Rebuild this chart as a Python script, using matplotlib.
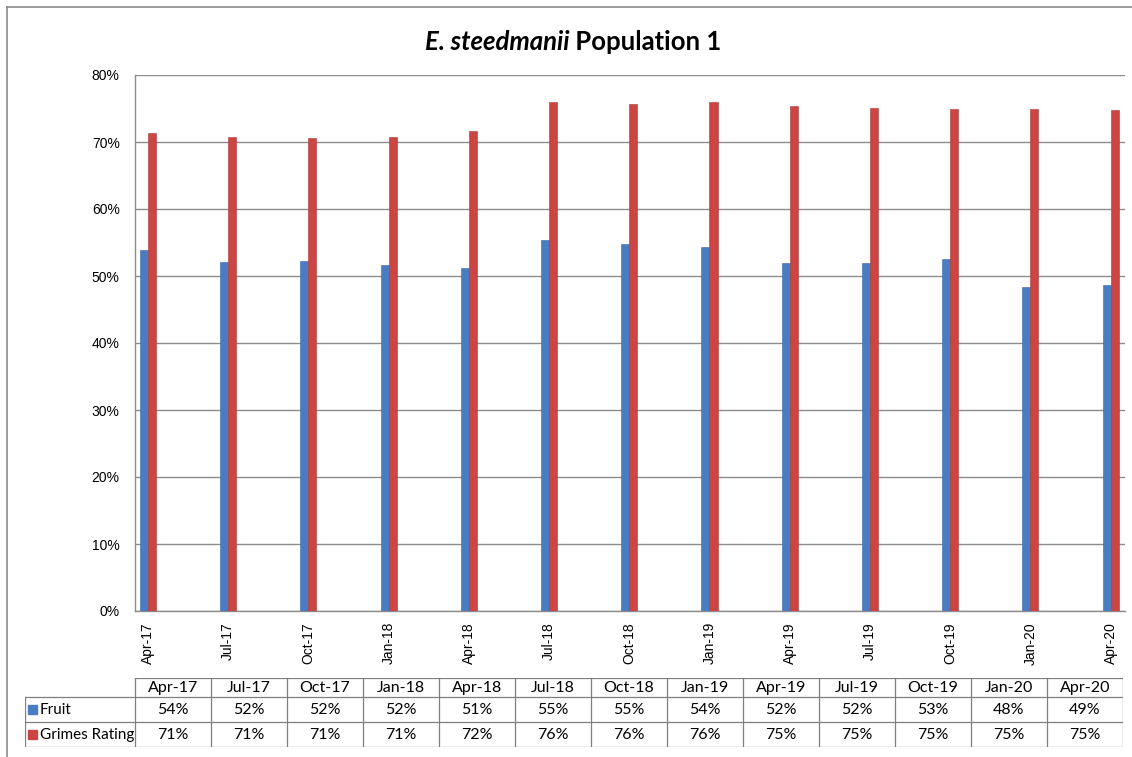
#!/usr/bin/env python3
# steedmanii_population.py

import matplotlib.pyplot as plt
from matplotlib.patches import Rectangle
from matplotlib.ticker import MultipleLocator, PercentFormatter
import numpy as np

dates = ["Apr-17", "Jul-17", "Oct-17", "Jan-18", "Apr-18", "Jul-18", "Oct-18",
         "Jan-19", "Apr-19", "Jul-19", "Oct-19", "Jan-20", "Apr-20"]
fruit = [53.9, 52.1, 52.2, 51.6, 51.2, 55.4, 54.8,
         54.4, 51.9, 51.9, 52.6, 48.4, 48.7]
grimes = [71.3, 70.7, 70.6, 70.7, 71.6, 76.0, 75.7,
          76.0, 75.4, 75.1, 74.9, 74.9, 74.8]
series = ["Fruit", "Grimes Rating"]

BLUE = '#4A7CC2'
RED = '#CC4542'
GRID = '#8C8C8C'
W, H = 1132, 757
TABLE_FONT = ['Lato', 'DejaVu Sans']
AXIS_FONT = ['Liberation Sans', 'DejaVu Sans']


def plot_bars(ax):
    x = np.arange(len(dates))
    bw = 0.1
    ax.bar(x - bw / 2, fruit, bw, color=BLUE, edgecolor='#3A68A8',
           linewidth=0.4, zorder=3)
    ax.bar(x + bw / 2, grimes, bw, color=RED, edgecolor='#A83A38',
           linewidth=0.4, zorder=3)

    ax.set_xlim(-0.162, 12.18)
    ax.set_ylim(0, 80)
    ax.yaxis.set_major_locator(MultipleLocator(10))
    ax.yaxis.set_major_formatter(PercentFormatter(decimals=0))
    ax.set_xticks(x)
    ax.set_xticklabels(dates, rotation=90, family=AXIS_FONT, fontsize=10)
    for lab in ax.get_yticklabels():
        lab.set_family(AXIS_FONT)
        lab.set_fontsize(10)
    ax.tick_params(axis='y', length=0, pad=11)
    ax.tick_params(axis='x', length=0, pad=8)
    ax.grid(axis='y', color=GRID, linewidth=1.0, zorder=0)
    ax.set_axisbelow(True)
    for side in ('top', 'right'):
        ax.spines[side].set_visible(False)
    for side in ('left', 'bottom'):
        ax.spines[side].set_color(GRID)
        ax.spines[side].set_linewidth(1.0)


def plot_table(tab):
    # coordinates in pixels inside the table box
    label_w, col_w = 110, 76
    rows_y = [0, 19, 44, 69]
    right = label_w + col_w * len(dates)
    tab.set_xlim(0, right)
    tab.set_ylim(rows_y[-1], 0)
    tab.axis('off')

    lc = dict(color='#7F7F7F', linewidth=0.9)
    tab.plot([label_w, right], [rows_y[0]] * 2, **lc)
    for y in rows_y[1:]:
        tab.plot([0, right], [y, y], **lc)
    tab.plot([0, 0], [rows_y[1], rows_y[-1]], **lc)
    for i in range(len(dates) + 1):
        tab.plot([label_w + col_w * i] * 2, [rows_y[0], rows_y[-1]], **lc)

    for i, d in enumerate(dates):
        cx = label_w + col_w * (i + 0.5)
        tab.text(cx, (rows_y[0] + rows_y[1]) / 2 + 0.5, d, ha='center',
                 va='center', family=TABLE_FONT, fontsize=11.5)
        for r, vals in enumerate([fruit, grimes]):
            cy = (rows_y[r + 1] + rows_y[r + 2]) / 2 + 0.5
            tab.text(cx, cy, f"{round(vals[i])}%", ha='center', va='center',
                     family=TABLE_FONT, fontsize=11.5)

    for r, (name, col) in enumerate(zip(series, [BLUE, RED])):
        cy = (rows_y[r + 1] + rows_y[r + 2]) / 2
        tab.add_patch(Rectangle((3, cy - 4.5), 9, 9, color=col))
        tab.text(15, cy + 0.5, name, ha='left', va='center',
                 family=TABLE_FONT, fontsize=11)


def add_title(fig):
    r = fig.canvas.get_renderer()
    kw = dict(fontsize=18.5, weight='bold', family=TABLE_FONT, va='baseline')
    t1 = fig.text(0, 0, "E. steedmanii", style='italic', **kw)
    t2 = fig.text(0, 0, " Population 1", **kw)
    w1 = t1.get_window_extent(r).width
    w2 = t2.get_window_extent(r).width
    x0 = 573 - (w1 + w2) / 2
    yb = 1 - 50 / H
    t1.set_position((x0 / W, yb))
    t2.set_position(((x0 + w1) / W, yb))


def main():
    fig = plt.figure(figsize=(W / 100, H / 100), dpi=100)
    ax = fig.add_axes([135 / W, (H - 611) / H, (1125 - 135) / W, (611 - 75) / H])
    plot_bars(ax)

    tab = fig.add_axes([25 / W, (H - 747) / H, (1123 - 25) / W, (747 - 678) / H])
    plot_table(tab)

    add_title(fig)

    # chart area border (top and left edges visible in the crop)
    fig.add_artist(plt.Line2D([7 / W, 7 / W], [0, 1 - 7 / H],
                              transform=fig.transFigure, color='#8C8C8C', lw=1.2))
    fig.add_artist(plt.Line2D([7 / W, 1], [1 - 7 / H, 1 - 7 / H],
                              transform=fig.transFigure, color='#8C8C8C', lw=1.2))

    fig.savefig("out.png", dpi=100)


if __name__ == "__main__":
    main()
